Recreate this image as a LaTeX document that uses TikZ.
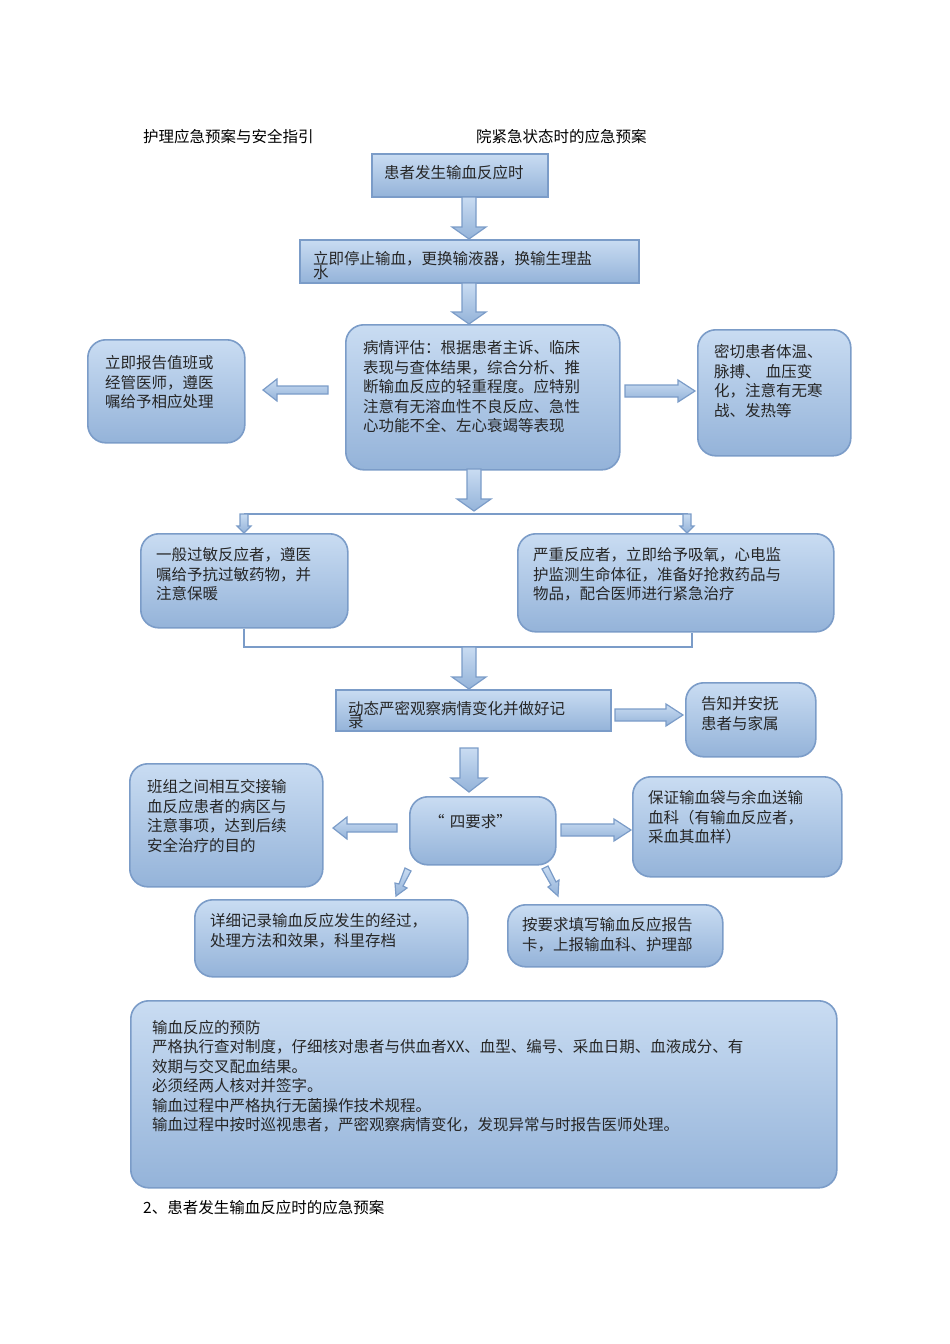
\documentclass[tikz,border=0pt]{standalone}
\usepackage{fontspec}
\setmainfont{Noto Sans CJK SC}
\usetikzlibrary{calc}
\definecolor{bfill1}{HTML}{C9DCF2}
\definecolor{bfill2}{HTML}{94B3D9}
\definecolor{bline}{HTML}{7B9CC8}
\tikzset{
  rbox/.style={draw=bline, line width=1.6pt, rounded corners=18pt, top color=bfill1, bottom color=bfill2, inner sep=0pt},
  sbox/.style={draw=bline, line width=1.6pt, top color=bfill1, bottom color=bfill2, inner sep=0pt},
  txt/.style={inner sep=0pt, align=left, font=\fontsize{15.5}{19.5}\selectfont, text=black!85},
  hdr/.style={inner sep=0pt, anchor=west, font=\fontsize{15.5}{19}\selectfont},
  barrow/.style={draw=bline, line width=1.2pt, top color=bfill1, bottom color=bfill2},
  thin/.style={draw=bline, line width=1.4pt}
}
\newcommand\bx[8]{%
  \node[#6, anchor=north west, minimum width=#4pt-#2pt, minimum height=#5pt-#3pt] (#1) at (#2,#3) {};
  \node[txt, anchor=north west, text width=#4pt-#2pt-#7pt] (#1t) at ($(#1.north west)+(#7pt,-#7pt*0.9)$) {#8};}
% down arrow: x, y1, y2, shaft half, head half, head len
\newcommand\darr[6]{\path[barrow] (#1-#4,#2) -- (#1+#4,#2) -- (#1+#4,#3-#6) -- (#1+#5,#3-#6) -- (#1,#3) -- (#1-#5,#3-#6) -- (#1-#4,#3-#6) -- cycle;}
% horizontal arrow: y, x1 (tail), x2 (tip), shaft half, head half, head len (signed)
\newcommand\harr[6]{\path[barrow] (#2,#1-#4) -- (#3-#6,#1-#4) -- (#3-#6,#1-#5) -- (#3,#1) -- (#3-#6,#1+#5) -- (#3-#6,#1+#4) -- (#2,#1+#4) -- cycle;}
\begin{document}
\begin{tikzpicture}[x=1pt,y=-1pt]
\useasboundingbox (0,0) rectangle (950,1344);
\node[hdr] (h1) at (143,137) {护理应急预案与安全指引};
\node[hdr] (h2) at (476,137) {院紧急状态时的应急预案};
\node[hdr] (h3) at (143,1208) {2、患者发生输血反应时的应急预案};

\bx{t1}{371}{153}{547}{196}{sbox}{13}{患者发生输血反应时}
\bx{t2}{299}{239}{638}{282}{sbox}{14}{立即停止输血，更换输液器，换输生理盐\\[-6pt]水}
\bx{ev}{345}{324}{619}{469}{rbox}{18}{病情评估：根据患者主诉、临床\\表现与查体结果，综合分析、推\\断输血反应的轻重程度。应特别\\注意有无溶血性不良反应、急性\\心功能不全、左心衰竭等表现}
\bx{l1}{87}{339}{244}{442}{rbox}{18}{立即报告值班或\\经管医师，遵医\\嘱给予相应处理}
\bx{r1}{697}{329}{850}{455}{rbox}{17}{密切患者体温、\\脉搏、\ 血压变\\化，注意有无寒\\战、发热等}
\bx{g1}{140}{533}{347}{627}{rbox}{16}{一般过敏反应者，遵医\\嘱给予抗过敏药物，并\\注意保暖}
\bx{g2}{517}{533}{833}{631}{rbox}{16}{严重反应者，立即给予吸氧，心电监\\护监测生命体征，准备好抢救药品与\\物品，配合医师进行紧急治疗}
\bx{ob}{335}{689}{610}{730}{sbox}{13}{动态严密观察病情变化并做好记\\[-6pt]录}
\bx{inf}{685}{682}{815}{756}{rbox}{16}{告知并安抚\\患者与家属}
\bx{rq}{409}{796}{555}{864}{rbox}{20}{“ 四要求”}
\bx{tl}{129}{763}{322}{886}{rbox}{18}{班组之间相互交接输\\血反应患者的病区与\\注意事项，达到后续\\安全治疗的目的}
\bx{en}{632}{776}{841}{876}{rbox}{16}{保证输血袋与余血送输\\血科（有输血反应者，\\采血其血样）}
\bx{rc}{194}{899}{467}{976}{rbox}{16}{详细记录输血反应发生的经过，\\处理方法和效果，科里存档}
\bx{rp}{507}{904}{722}{966}{rbox}{15}{按要求填写输血反应报告\\卡，上报输血科、护理部}
\bx{pv}{130}{1000}{836}{1187}{rbox}{22}{输血反应的预防\\严格执行查对制度，仔细核对患者与供血者XX、血型、编号、采血日期、血液成分、有\\效期与交叉配血结果。\\必须经两人核对并签字。\\输血过程中严格执行无菌操作技术规程。\\输血过程中按时巡视患者，严密观察病情变化，发现异常与时报告医师处理。}

% arrows
\darr{469}{197}{239}{7}{17}{12}
\darr{469}{283}{324}{7}{17}{12}
\harr{390}{328}{263}{4}{11}{-14}
\harr{391}{625}{695}{6}{11}{17}
\darr{474}{469}{511}{7}{17}{12}
\draw[thin] (244,514) -- (688,514);
\darr{244}{514}{533}{4}{7}{7}
\darr{687}{514}{533}{4}{7}{7}
\draw[thin] (g1.south -| 244,0) -- (244,647) -- (692,647) -- (g2.south -| 692,0);
\darr{469}{647}{689}{7}{17}{12}
\harr{715}{615}{683}{6}{11}{17}
\darr{469}{748}{792}{9}{18}{14}
\harr{828}{397}{333}{4}{11}{-14}
\harr{830}{561}{631}{6}{11}{17}
\path[barrow] (405,868) -- (411,871) -- (403,886) -- (407,888) -- (396,896) -- (395,883) -- (399,884) -- cycle;
\path[barrow] (542,869) -- (548,866) -- (556,882) -- (559,880) -- (558,896) -- (548,887) -- (551,885) -- cycle;
\end{tikzpicture}
\end{document}
